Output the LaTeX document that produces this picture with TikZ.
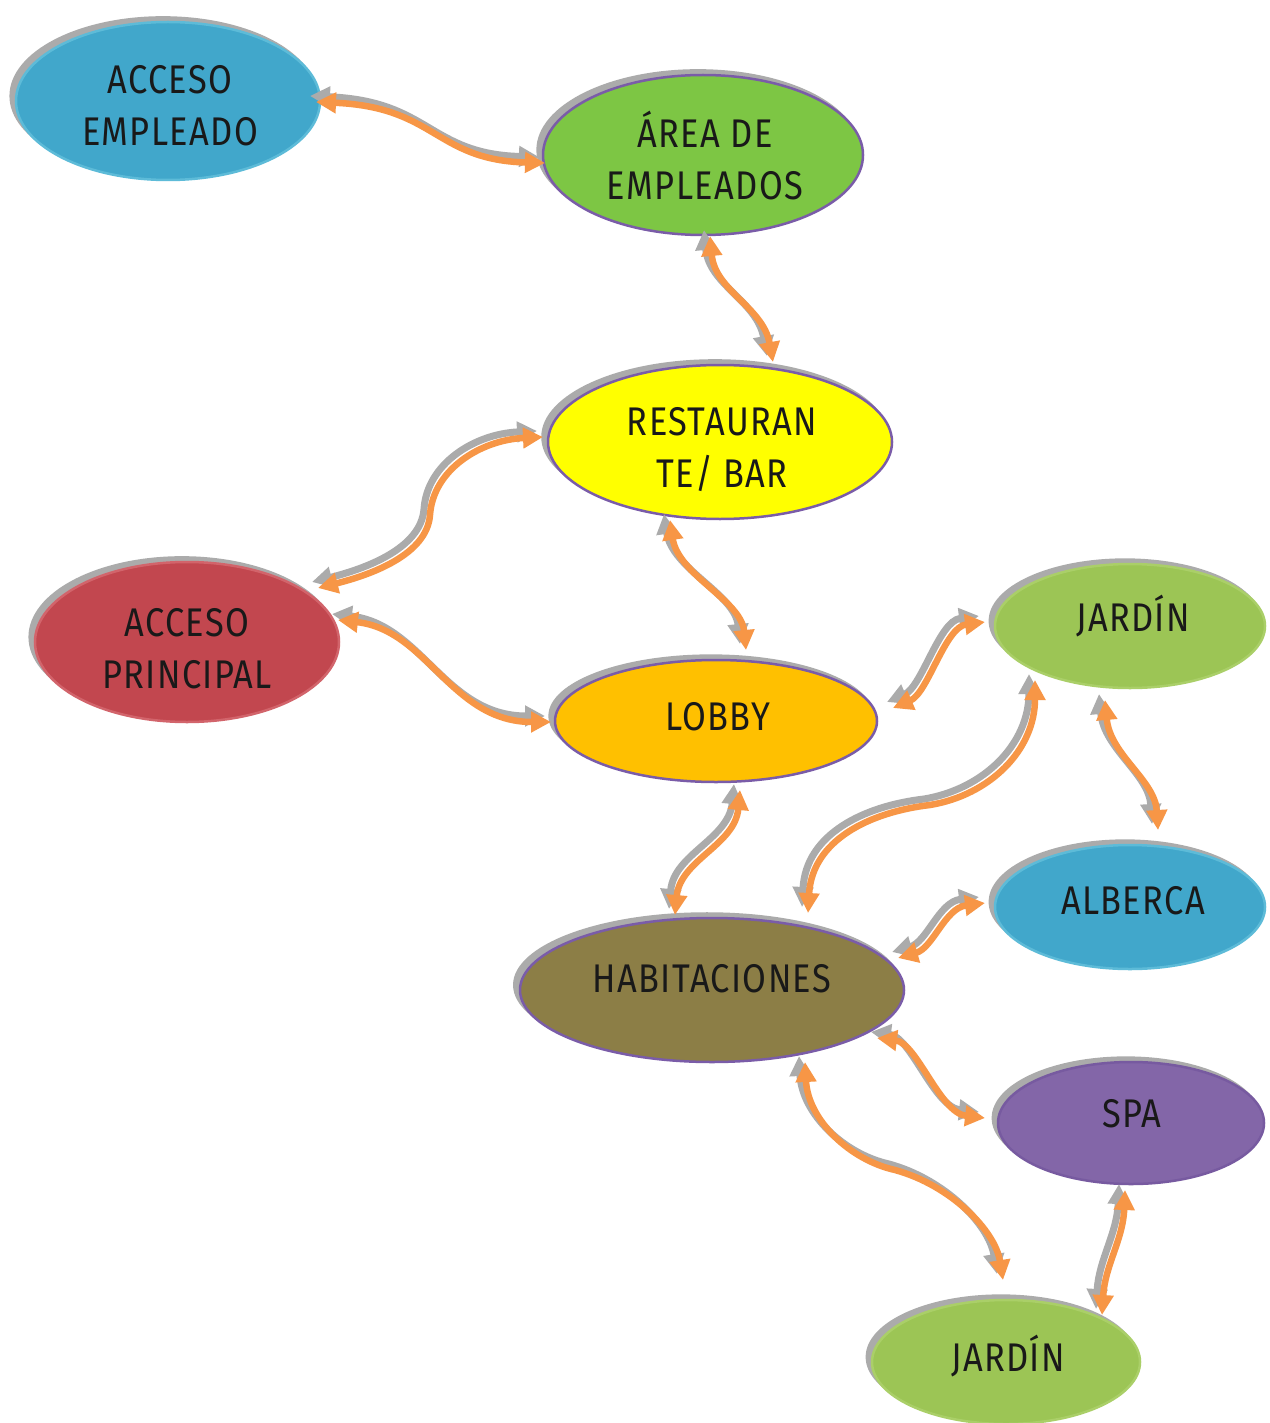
\documentclass[tikz,border=0pt]{standalone}
\usepackage{fontspec}
\newfontfamily\labfont[LetterSpace=4]{Fira Sans}
\usetikzlibrary{shapes.geometric,arrows.meta,calc,shadows}
\definecolor{orng}{HTML}{F79646}
\definecolor{shd}{HTML}{ABABAB}
\definecolor{purp}{HTML}{7A5CA8}
\definecolor{cblue}{HTML}{41A7CB}
\definecolor{cblueb}{HTML}{5DBBD8}
\definecolor{cgreen}{HTML}{7DC644}
\definecolor{cyel}{HTML}{FFFF00}
\definecolor{cred}{HTML}{C2474F}
\definecolor{credb}{HTML}{D2646B}
\definecolor{corange}{HTML}{FFC000}
\definecolor{clgreen}{HTML}{9CC555}
\definecolor{clgreenb}{HTML}{AACF68}
\definecolor{colive}{HTML}{8C7E46}
\definecolor{cpurple}{HTML}{8366A8}
\definecolor{cpurpleb}{HTML}{775AA0}
\newcommand\nar[1]{\scalebox{0.86}[1]{#1}}
\newcommand\myconn[1]{\draw[arrshadow] #1; \draw[arr] #1;}
\begin{document}
\begin{tikzpicture}[x=1pt,y=-1pt,
  bub/.style={ellipse, inner sep=0pt, line width=2.5pt,
    general shadow={fill=shd, shadow xshift=-5pt, shadow yshift=5pt, shadow scale=1.01}},
  lbl/.style={font=\labfont\fontsize{40}{52}\selectfont, align=center, inner sep=0pt, text=black!90},
  arr/.style={draw=orng, line width=6.5pt, {Triangle[length=20pt,width=20pt]}-{Triangle[length=20pt,width=20pt]}},
  arrshadow/.style={draw=shd, line width=7pt, {Triangle[length=20pt,width=20pt]}-{Triangle[length=20pt,width=20pt]},
    transform canvas={xshift=-6pt,yshift=6pt}}]
\useasboundingbox (0,0) rectangle (1269,1423);
\fill[white] (0,0) rectangle (1269,1423);

% nodes
\node[bub, fill=cblue, draw=cblueb, minimum width=304pt, minimum height=158pt] (ae) at (168,101) {};
\node[bub, fill=cgreen, draw=purp, minimum width=320pt, minimum height=160pt] (aed) at (703,155) {};
\node[bub, fill=cyel, draw=purp, minimum width=344pt, minimum height=154pt] (rb) at (720,442) {};
\node[bub, fill=cred, draw=credb, minimum width=304pt, minimum height=160pt] (ap) at (187,642) {};
\node[bub, fill=corange, draw=purp, minimum width=322pt, minimum height=122pt] (lb) at (716,721) {};
\node[bub, fill=clgreen, draw=clgreenb, minimum width=270pt, minimum height=124pt] (j1) at (1130,626) {};
\node[bub, fill=cblue, draw=cblueb, minimum width=270pt, minimum height=124pt] (al) at (1130,907) {};
\node[bub, fill=colive, draw=purp, minimum width=384pt, minimum height=144pt] (hb) at (712,990) {};
\node[bub, fill=cpurple, draw=cpurpleb, minimum width=266pt, minimum height=122pt] (spa) at (1131,1123) {};
\node[bub, fill=clgreen, draw=clgreenb, minimum width=268pt, minimum height=124pt] (j2) at (1006,1362) {};

% labels
\node[lbl] (aet) at ($(ae)+(2,5)$) {\nar{ACCESO}\\\nar{EMPLEADO}};
\node[lbl] (aedt) at ($(aed)+(2,1)$) {\nar{ÁREA DE}\\\nar{EMPLEADOS}};
\node[lbl] (rbt) at ($(rb)+(2,8)$) {\nar{RESTAURAN}\\\nar{TE/ BAR}};
\node[lbl] (apt) at ($(ap)+(0,7)$) {\nar{ACCESO}\\\nar{PRINCIPAL}};
\node[lbl, anchor=base] (lbt) at ($(lb)+(2,9)$) {\nar{LOBBY}};
\node[lbl, anchor=base] (j1t) at ($(j1)+(3,5)$) {\nar{JARDÍN}};
\node[lbl, anchor=base] (alt) at ($(al)+(3,7)$) {\nar{ALBERCA}};
\node[lbl, anchor=base] (hbt) at ($(hb)+(0,2)$) {\nar{HABITACIONES}};
\node[lbl, anchor=base] (spat) at ($(spa)+(1,4)$) {\nar{SPA}};
\node[lbl, anchor=base] (j2t) at ($(j2)+(2,9)$) {\nar{JARDÍN}};

% connectors
\myconn{($(ae)+(148,1)$) .. controls ($(ae)+(268,6)$) and ($(aed)+(-268,5)$) .. ($(aed)+(-158,8)$)}
\myconn{($(aed)+(7,81)$) .. controls ($(aed)+(12,136)$) and ($(rb)+(43,-135)$) .. ($(rb)+(53,-80)$)}
\myconn{($(rb)+(-177,-5)$) .. controls ($(rb)+(-240,-2)$) and ($(rb)+(-287,28)$) .. ($(rb)+(-290,73)$)
        .. controls ($(rb)+(-293,113)$) and ($(ap)+(183,-67)$) .. ($(ap)+(131,-54)$)}
\myconn{($(ap)+(151,-22)$) .. controls ($(ap)+(241,-12)$) and ($(lb)+(-265,1)$) .. ($(lb)+(-165,1)$)}
\myconn{($(rb)+(-50,78)$) .. controls ($(rb)+(-42,133)$) and ($(lb)+(25,-121)$) .. ($(lb)+(30,-71)$)}
\myconn{($(lb)+(177,-13)$) .. controls ($(lb)+(212,-28)$) and ($(j1)+(-185,1)$) .. ($(j1)+(-145,-4)$)}
\myconn{($(hb)+(96,-77)$) .. controls ($(hb)+(100,-150)$) and ($(hb)+(158,-178)$) .. ($(hb)+(218,-185)$)
        .. controls ($(hb)+(278,-195)$) and ($(j1)+(-95,124)$) .. ($(j1)+(-95,54)$)}
\myconn{($(j1)+(-25,74)$) .. controls ($(j1)+(-20,129)$) and ($(al)+(25,-127)$) .. ($(al)+(28,-77)$)}
\myconn{($(lb)+(24,69)$) .. controls ($(lb)+(19,124)$) and ($(hb)+(-32,-130)$) .. ($(hb)+(-37,-75)$)}
\myconn{($(hb)+(186,-32)$) .. controls ($(hb)+(221,-42)$) and ($(al)+(-185,1)$) .. ($(al)+(-145,-4)$)}
\myconn{($(hb)+(165,48)$) .. controls ($(hb)+(205,53)$) and ($(spa)+(-191,-10)$) .. ($(spa)+(-146,-5)$)}
\myconn{($(hb)+(93,72)$) .. controls ($(hb)+(96,130)$) and ($(hb)+(138,170)$) .. ($(hb)+(183,180)$)
        .. controls ($(hb)+(238,195)$) and ($(j2)+(-11,-132)$) .. ($(j2)+(-3,-82)$)}
\myconn{($(spa)+(-6,67)$) .. controls ($(spa)+(-8,117)$) and ($(j2)+(99,-97)$) .. ($(j2)+(96,-47)$)}
\end{tikzpicture}
\end{document}
